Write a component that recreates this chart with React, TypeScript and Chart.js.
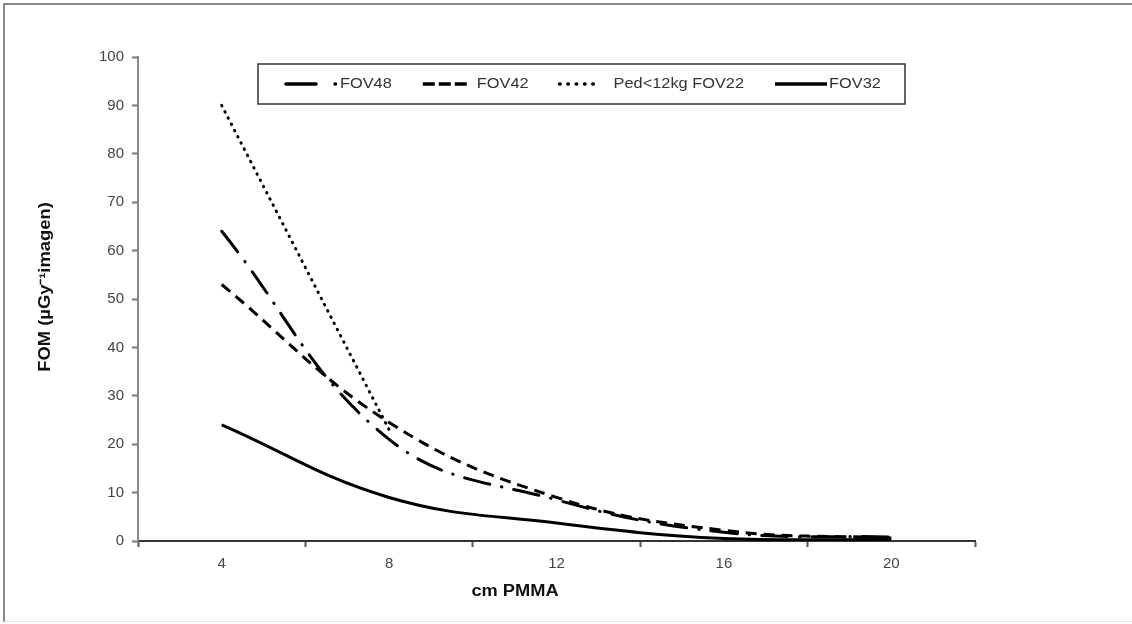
import React, { useEffect, useRef } from "react";
import { Chart, registerables } from "chart.js";

Chart.register(...registerables);

const categories = [4, 8, 12, 16, 20];
const seriesNames = ["FOV48", "FOV42", "Ped<12kg FOV22", "FOV32"];
const fov48 = [64, 21, 8.5, 1.8, 0.8];
const fov42 = [53, 24.5, 9, 2.2, 0.6];
const ped22 = [90, 23, null, null, null];
const fov32 = [24, 9, 3.7, 0.5, 0.3];
const xLabelTicks = [4, 8, 12, 16, 20];
const xTitle = "cm PMMA";
const yTitle = "FOM (µGy⁻¹imagen)";

const FONT = "'Liberation Sans', Arial, sans-serif";

const toPoints = (vals: (number | null)[]) =>
  categories.map((c, i) => ({ x: c, y: vals[i] }));

function stretchedText(ctx: any, text: string, x: number, y: number, sx: number, align: string) {
  ctx.save();
  ctx.translate(x, y);
  ctx.scale(sx, 1);
  ctx.textAlign = align;
  ctx.fillText(text, 0, 0);
  ctx.restore();
}

const customPlugin = {
  id: "customDecor",
  afterDraw(chart: any) {
    const { ctx, chartArea } = chart;
    ctx.save();
    // axis titles
    ctx.fillStyle = "#111";
    ctx.font = `bold 16px ${FONT}`;
    ctx.textBaseline = "middle";
    stretchedText(ctx, xTitle, chartArea.left + 377, chartArea.bottom + 51, 1.14, "center");
    ctx.save();
    ctx.translate(chartArea.left - 92, chartArea.top + 230);
    ctx.rotate(-Math.PI / 2);
    stretchedText(ctx, yTitle, 0, 0, 1.15, "center");
    ctx.restore();

    // legend box
    const bx = chartArea.left + 120;
    const by = chartArea.top + 7;
    const bw = 647;
    const bh = 40;
    ctx.fillStyle = "#fff";
    ctx.fillRect(bx, by, bw, bh);
    ctx.strokeStyle = "#333";
    ctx.lineWidth = 1.5;
    ctx.strokeRect(bx, by, bw, bh);

    ctx.font = `15px ${FONT}`;
    const sx = 1.09;
    const cy = by + bh / 2;
    let x = bx + 28;
    chart.data.datasets.forEach((ds: any) => {
      ctx.save();
      ctx.strokeStyle = ds.borderColor;
      ctx.lineWidth = 3.5;
      ctx.lineCap = ds.borderCapStyle || "butt";
      ctx.setLineDash(ds.legendDash || []);
      ctx.beginPath();
      ctx.moveTo(x, cy);
      ctx.lineTo(x + ds.legendLen, cy);
      ctx.stroke();
      ctx.restore();
      x += 54;
      ctx.fillStyle = "#333";
      stretchedText(ctx, ds.label, x, cy, sx, "left");
      x += ctx.measureText(ds.label).width * sx + 31;
    });
    ctx.restore();
  },
};

export default function App() {
  const ref = useRef<HTMLCanvasElement | null>(null);

  useEffect(() => {
    if (!ref.current) return;
    const common = {
      borderColor: "#000",
      borderWidth: 3,
      pointRadius: 0,
      pointHoverRadius: 0,
      tension: 0.4,
      fill: false,
      spanGaps: false,
    };
    const chart = new Chart(ref.current, {
      type: "line",
      data: {
        datasets: [
          {
            ...common,
            label: seriesNames[0],
            data: toPoints(fov48),
            borderDash: [26, 12, 0.5, 12],
            borderCapStyle: "round",
            legendDash: [30, 19, 0.5, 40],
            legendLen: 50,
          },
          {
            ...common,
            label: seriesNames[1],
            data: toPoints(fov42),
            borderDash: [11, 7],
            borderCapStyle: "butt",
            legendDash: [12, 4],
            legendLen: 44,
          },
          {
            ...common,
            label: seriesNames[2],
            data: toPoints(ped22),
            borderDash: [0.5, 6.5],
            borderCapStyle: "round",
            tension: 0,
            legendDash: [0.5, 7.8],
            legendLen: 40,
          },
          {
            ...common,
            label: seriesNames[3],
            data: toPoints(fov32),
            borderCapStyle: "butt",
            legendDash: [],
            legendLen: 52,
          },
        ] as any,
      },
      options: {
        responsive: false,
        animation: false,
        devicePixelRatio: 1,
        layout: { padding: { left: 88, right: 157, top: 57, bottom: 43 } },
        plugins: {
          legend: { display: false },
          tooltip: { enabled: false },
          title: { display: false },
        },
        scales: {
          x: {
            type: "linear",
            min: 2,
            max: 22,
            afterFit: (s: any) => {
              s.height = 40;
            },
            border: { color: "#333", width: 2 },
            grid: {
              drawOnChartArea: false,
              drawTicks: true,
              tickLength: 6,
              tickWidth: 2,
              tickColor: (c: any) =>
                c.tick && (c.tick.value - 2) % 4 === 0 ? "#555" : "rgba(0,0,0,0)",
            },
            ticks: {
              stepSize: 2,
              autoSkip: false,
              maxRotation: 0,
              padding: 8,
              color: "#444",
              font: { family: FONT, size: 15 },
              callback: (v: any) => (xLabelTicks.includes(Number(v)) ? String(v) : ""),
            },
          },
          y: {
            min: 0,
            max: 100,
            afterFit: (s: any) => {
              s.width = 50;
            },
            border: { color: "#888", width: 2 },
            grid: {
              drawOnChartArea: false,
              drawTicks: true,
              tickLength: 6,
              tickWidth: 2,
              tickColor: "#777",
            },
            ticks: {
              stepSize: 10,
              padding: 8,
              color: "#444",
              font: { family: FONT, size: 15 },
            },
          },
        },
      },
      plugins: [customPlugin],
    } as any);
    return () => chart.destroy();
  }, []);

  return (
    <div style={{ position: "relative", width: 1132, height: 624, background: "#fff" }}>
      <style>{`body{margin:0;}`}</style>
      <canvas ref={ref} width={1132} height={624} style={{ display: "block" }} />
      <div
        style={{
          position: "absolute",
          left: 3,
          top: 3,
          right: -10,
          bottom: 2,
          borderTop: "2px solid #8a8a8a",
          borderLeft: "2px solid #8a8a8a",
          borderBottom: "1px solid #e3e3e3",
          pointerEvents: "none",
        }}
      />
    </div>
  );
}
